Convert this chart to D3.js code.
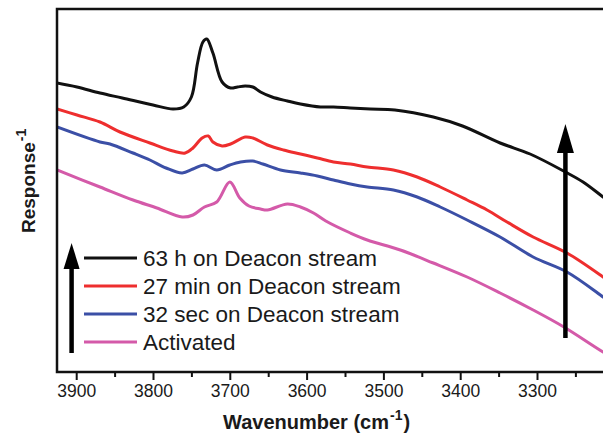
<!DOCTYPE html>
<html>
<head>
<meta charset="utf-8">
<script src="https://cdn.jsdelivr.net/npm/d3@7"></script>
<style>
  html, body { margin: 0; padding: 0; background: #fff; }
  svg text { font-family: "Liberation Sans", Arial, sans-serif; fill: #1a1a1a; }
</style>
</head>
<body>
<svg id="chart" width="603" height="435"></svg>
<script>
// Wavenumber (cm^-1) sample positions and inverse response (arbitrary units)
const wnBlack = [3925, 3899, 3869, 3840, 3800, 3774, 3760, 3750, 3742, 3735, 3730, 3722, 3710, 3699, 3690, 3680, 3670, 3660, 3645, 3625, 3608, 3582, 3565, 3543, 3517, 3485, 3435, 3397, 3348, 3309, 3263, 3240, 3214, 3200];
const h63 = [2.89, 2.85, 2.79, 2.74, 2.67, 2.63, 2.65, 2.75, 3.09, 3.30, 3.33, 3.19, 2.90, 2.84, 2.85, 2.86, 2.85, 2.80, 2.75, 2.71, 2.68, 2.65, 2.65, 2.64, 2.63, 2.62, 2.55, 2.46, 2.29, 2.18, 2.00, 1.90, 1.75, 1.67];

const wnRed = [3925, 3899, 3869, 3843, 3804, 3774, 3758, 3748, 3736, 3728, 3722, 3710, 3699, 3680, 3670, 3651, 3630, 3608, 3586, 3565, 3543, 3521, 3487, 3456, 3426, 3391, 3365, 3339, 3305, 3261, 3214, 3200];
const min27 = [2.63, 2.57, 2.50, 2.40, 2.29, 2.21, 2.19, 2.24, 2.34, 2.36, 2.30, 2.26, 2.28, 2.35, 2.34, 2.27, 2.22, 2.18, 2.14, 2.10, 2.08, 2.05, 2.02, 1.95, 1.85, 1.72, 1.62, 1.50, 1.35, 1.19, 0.95, 0.87];

const wnBlue = [3925, 3869, 3856, 3826, 3804, 3783, 3762, 3748, 3733, 3717, 3700, 3686, 3670, 3657, 3634, 3608, 3586, 3565, 3543, 3521, 3487, 3456, 3426, 3391, 3348, 3305, 3261, 3214, 3200];
const sec32 = [2.45, 2.30, 2.28, 2.19, 2.12, 2.04, 1.99, 2.03, 2.07, 2.02, 2.07, 2.10, 2.11, 2.08, 2.02, 1.99, 1.96, 1.92, 1.88, 1.85, 1.82, 1.75, 1.65, 1.52, 1.35, 1.15, 1.00, 0.75, 0.67];

const wnPink = [3925, 3869, 3826, 3795, 3762, 3748, 3733, 3717, 3700, 3687, 3675, 3660, 3651, 3625, 3608, 3591, 3575, 3543, 3521, 3478, 3435, 3391, 3348, 3305, 3265, 3214, 3200];
const activated = [2.02, 1.85, 1.72, 1.64, 1.55, 1.57, 1.65, 1.70, 1.90, 1.74, 1.66, 1.63, 1.62, 1.68, 1.65, 1.59, 1.51, 1.39, 1.32, 1.22, 1.09, 0.95, 0.79, 0.62, 0.45, 0.20, 0.14];

const seriesNames = ["63 h on Deacon stream", "27 min on Deacon stream", "32 sec on Deacon stream", "Activated"];
const seriesColors = ["#111111", "#ee2e2e", "#3b4fa6", "#d45aa9"];
const majorTicks = [3900, 3800, 3700, 3600, 3500, 3400, 3300];
const minorTicks = [3850, 3750, 3650, 3550, 3450, 3350, 3250];

const series = [
  { name: seriesNames[0], color: seriesColors[0], x: wnBlack, y: h63 },
  { name: seriesNames[1], color: seriesColors[1], x: wnRed, y: min27 },
  { name: seriesNames[2], color: seriesColors[2], x: wnBlue, y: sec32 },
  { name: seriesNames[3], color: seriesColors[3], x: wnPink, y: activated }
];

const svg = d3.select("#chart");
const padLeft = 57, padTop = 9, plotBottom = 372;

// Reversed wavenumber axis; the frame runs past the right edge of the canvas
const x = d3.scaleLinear().domain([3925, 3200]).range([padLeft, padLeft + 725 * 0.768]);
const y = d3.scaleLinear().domain([0, 3.63]).range([plotBottom, padTop]);

svg.append("defs").append("clipPath").attr("id", "plotclip")
  .append("rect").attr("x", padLeft).attr("y", padTop)
  .attr("width", x(3200) - padLeft).attr("height", plotBottom - padTop);

const line = d3.line()
  .x(d => x(d[0]))
  .y(d => y(d[1]))
  .curve(d3.curveCatmullRom.alpha(0.5));

const plot = svg.append("g").attr("clip-path", "url(#plotclip)");

// Draw the bottom curve first so the black one sits on top
series.slice().reverse().forEach(s => {
  plot.append("path")
    .datum(s.x.map((v, i) => [v, s.y[i]]))
    .attr("fill", "none")
    .attr("stroke", s.color)
    .attr("stroke-width", 3)
    .attr("stroke-linejoin", "round")
    .attr("d", line);
});

// Frame
svg.append("rect")
  .attr("x", padLeft).attr("y", padTop)
  .attr("width", x(3200) - padLeft).attr("height", plotBottom - padTop)
  .attr("fill", "none").attr("stroke", "#111").attr("stroke-width", 2.5);

// Bottom axis: major and minor ticks
const axisMajor = d3.axisBottom(x).tickValues(majorTicks).tickSize(8).tickPadding(5).tickFormat(d3.format("d"));
const axisMinor = d3.axisBottom(x).tickValues(minorTicks).tickSize(5).tickFormat("");

const gMaj = svg.append("g").attr("transform", `translate(0,${plotBottom})`).call(axisMajor);
const gMin = svg.append("g").attr("transform", `translate(0,${plotBottom})`).call(axisMinor);
[gMaj, gMin].forEach(g => {
  g.select(".domain").remove();
  g.selectAll(".tick line").attr("stroke", "#111").attr("stroke-width", 2);
});
gMaj.selectAll(".tick text")
  .style("font-size", "17.5px")
  .style("font-family", "'Liberation Sans', Arial, sans-serif")
  .attr("fill", "#1a1a1a");

// Axis titles
const xt = svg.append("text")
  .attr("x", 223).attr("y", 429)
  .attr("text-anchor", "start")
  .style("font-size", "20px").style("font-weight", "bold");
xt.append("tspan").text("Wavenumber (cm");
xt.append("tspan").attr("dx", 1).attr("dy", -9).style("font-size", "14px").text("-1");
xt.append("tspan").attr("dx", 1).attr("dy", 9).text(")");

const yt = svg.append("text")
  .attr("transform", "translate(35,233) rotate(-90)")
  .attr("text-anchor", "start")
  .style("font-size", "19px").style("font-weight", "bold");
yt.append("tspan").text("Response");
yt.append("tspan").attr("dx", 1).attr("dy", -9).style("font-size", "14px").text("-1");

// Arrows marking the direction of increasing time on stream
function arrow(xv, yFrom, yTo, headW, headH) {
  const px = x(xv), y0 = y(yFrom), y1 = y(yTo);
  svg.append("line")
    .attr("x1", px).attr("x2", px)
    .attr("y1", y0).attr("y2", y1 + headH - 2)
    .attr("stroke", "#000").attr("stroke-width", 4.5);
  svg.append("path")
    .attr("d", `M${px},${y1} L${px + headW / 2},${y1 + headH} L${px - headW / 2},${y1 + headH} Z`)
    .attr("fill", "#000");
}
arrow(3263, 0.34, 2.48, 17, 29);
arrow(3906, 0.19, 1.29, 16, 26);

// Legend
const legRows = [258, 286, 314, 342];
const leg = svg.append("g");
series.forEach((s, i) => {
  leg.append("line")
    .attr("x1", 84).attr("x2", 137)
    .attr("y1", legRows[i]).attr("y2", legRows[i])
    .attr("stroke", s.color).attr("stroke-width", 3);
  leg.append("text")
    .attr("x", 143).attr("y", legRows[i])
    .attr("dy", "0.36em")
    .style("font-size", "22.5px")
    .text(s.name);
});
</script>
</body>
</html>
